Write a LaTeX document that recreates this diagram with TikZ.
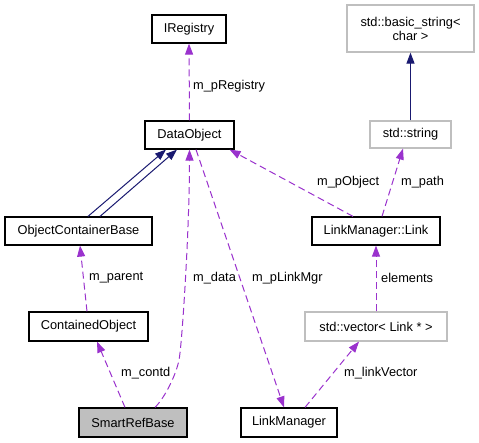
\documentclass[tikz,border=0pt]{standalone}
\usepackage{fontspec}
\setmainfont{Liberation Sans}
\usetikzlibrary{arrows.meta}
\definecolor{edgepurple}{HTML}{9A32CD}
\definecolor{edgenavy}{HTML}{191970}
\definecolor{grayborder}{HTML}{BFBFBF}
\definecolor{grayfill}{HTML}{BFBFBF}
\begin{document}
\begin{tikzpicture}[x=1pt,y=-1pt,
  font=\fontsize{12.8}{14}\selectfont,
  cls/.style={draw=black,line width=1.2pt,fill=white,inner sep=0pt,minimum height=28pt,align=center},
  extcls/.style={draw=grayborder,line width=1.2pt,fill=white,inner sep=0pt,minimum height=28pt,align=center},
  usage/.style={draw=edgepurple,line width=1pt,dash pattern=on 7pt off 4pt,-{Triangle[length=11pt,width=8pt,fill=edgepurple]}},
  inherit/.style={draw=edgenavy,line width=1pt,-{Triangle[length=11pt,width=8pt,fill=edgenavy]}},
  lbl/.style={anchor=west,inner sep=0pt}
]
\useasboundingbox (0,0) rectangle (479,443);

% nodes
\node[cls,minimum width=74pt] (ireg) at (189,29) {IRegistry};
\node[cls,minimum width=89pt] (dobj) at (189.5,135) {DataObject};
\node[cls,minimum width=147pt] (ocb) at (78.5,231) {ObjectContainerBase};
\node[extcls,minimum width=127pt,minimum height=47pt] (bstr) at (410.5,28.5) {std::basic\_string<\\char >};
\node[extcls,minimum width=81pt,minimum height=27pt] (str) at (410.5,134.5) {std::string};
\node[cls,minimum width=128pt] (link) at (376,231) {LinkManager::Link};
\node[cls,minimum width=119pt,minimum height=29pt] (cobj) at (88.5,326.5) {ContainedObject};
\node[extcls,minimum width=142pt,minimum height=29pt] (vec) at (376,326.5) {std::vector< Link * >};
\node[cls,fill=grayfill,minimum width=108pt,minimum height=29pt] (smart) at (133,422.5) {SmartRefBase};
\node[cls,minimum width=96pt,minimum height=29pt] (lmgr) at (289,422.5) {LinkManager};

% inheritance
\draw[inherit] ([xshift=9.5pt]ocb.north) -- ([xshift=-23.5pt]dobj.south);
\draw[inherit] ([xshift=21.5pt]ocb.north) -- ([xshift=-12.5pt]dobj.south);
\draw[inherit] (str.north) -- (bstr.south);

% usage
\draw[usage] (dobj.north) -- (ireg.south);
\draw[usage] ([xshift=-23pt]link.north) -- ([xshift=-5pt]dobj.south east);
\draw[usage] ([xshift=6pt]link.north) -- ([xshift=-7.5pt]str.south);
\draw[usage] ([xshift=-1.5pt]cobj.north) -- ([xshift=1.5pt]ocb.south);
\draw[usage] ([xshift=22pt]smart.north) .. controls +(10,-10) and +(-3,15) .. (179,360) .. controls +(3,-15) and +(0,80) .. (dobj.south);
\draw[usage] ([xshift=-8pt]smart.north) -- ([xshift=8.5pt]cobj.south);
\draw[usage] ([xshift=6.5pt]dobj.south) -- ([xshift=-5pt]lmgr.north);
\draw[usage] ([xshift=16pt]lmgr.north) -- ([xshift=-17pt]vec.south);
\draw[usage] (vec.north) -- (link.south);

% labels
\node[lbl] (l1) at (193,86) {m\_pRegistry};
\node[lbl] (l2) at (317,182) {m\_pObject};
\node[lbl] (l3) at (401,182) {m\_path};
\node[lbl] (l4) at (89,278) {m\_parent};
\node[lbl] (l5) at (193,278) {m\_data};
\node[lbl] (l6) at (252,278) {m\_pLinkMgr};
\node[lbl] (l7) at (381,278) {elements};
\node[lbl] (l8) at (121,373) {m\_contd};
\node[lbl] (l9) at (344,373) {m\_linkVector};
\end{tikzpicture}
\end{document}
